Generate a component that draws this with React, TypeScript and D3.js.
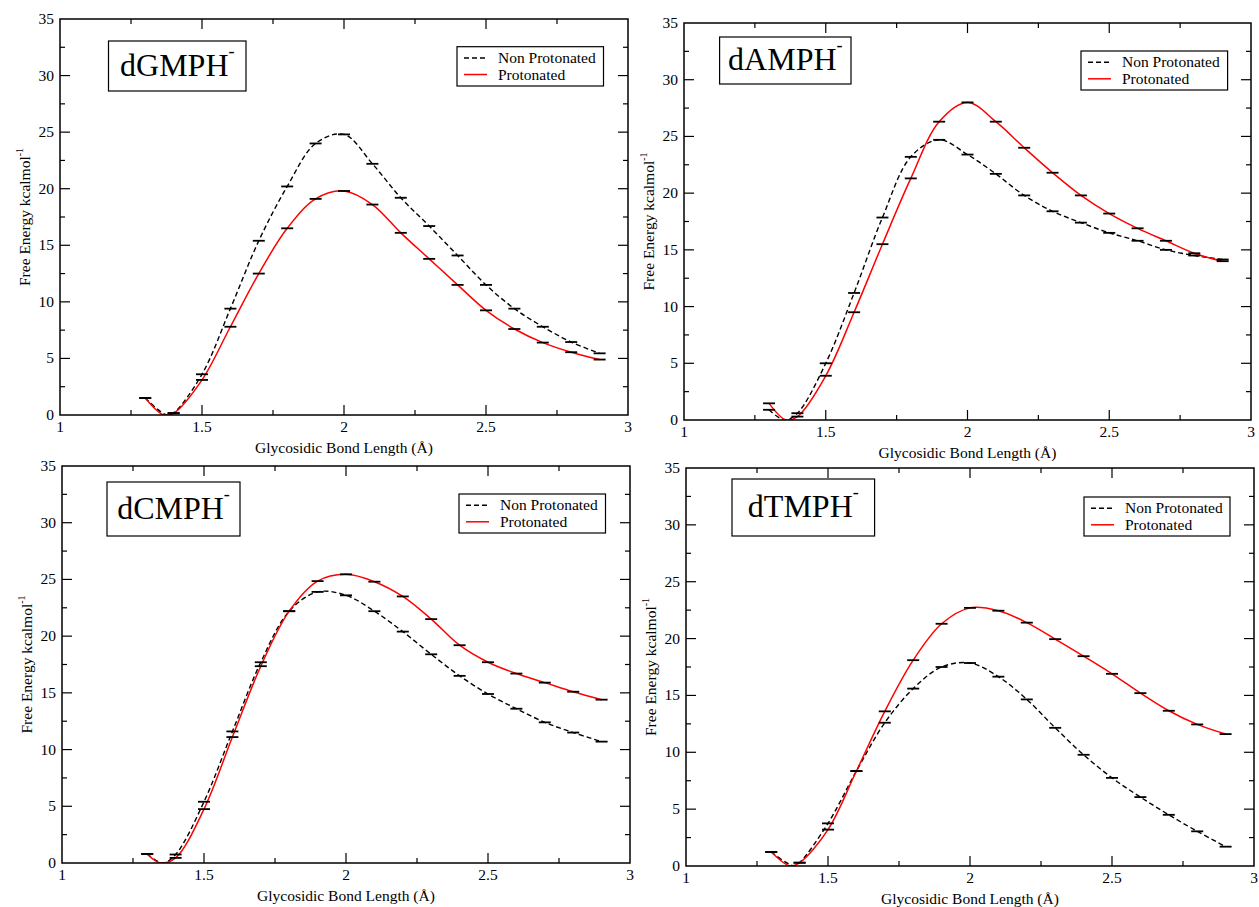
import React, { useRef, useEffect } from 'react';
import * as d3 from 'd3';

// bond length of the umbrella windows (Å)
const bondLength = [1.3, 1.4, 1.5, 1.6, 1.7, 1.8, 1.9, 2.0, 2.1, 2.2, 2.3, 2.4, 2.5, 2.6, 2.7, 2.8, 2.9];

// free energy (kcal/mol) per window
const gmpNon = [1.5, 0.18, 3.6, 9.4, 15.4, 20.2, 24.0, 24.8, 22.2, 19.2, 16.7, 14.1, 11.5, 9.4, 7.8, 6.45, 5.45];
const gmpPro = [1.5, 0.15, 3.1, 7.8, 12.5, 16.5, 19.1, 19.8, 18.6, 16.1, 13.8, 11.5, 9.25, 7.6, 6.4, 5.55, 4.9];
const ampNon = [0.9, 0.6, 5.0, 11.2, 17.85, 23.2, 24.7, 23.4, 21.7, 19.8, 18.4, 17.4, 16.5, 15.8, 15.0, 14.5, 14.15];
const ampPro = [1.47, 0.3, 3.9, 9.5, 15.5, 21.3, 26.3, 28.0, 26.3, 24.0, 21.8, 19.8, 18.2, 16.9, 15.8, 14.7, 14.0];
const cmpNon = [0.8, 0.75, 5.4, 11.6, 17.7, 22.2, 23.9, 23.6, 22.2, 20.4, 18.4, 16.5, 14.9, 13.6, 12.4, 11.5, 10.7];
const cmpPro = [0.8, 0.45, 4.75, 11.1, 17.35, 22.2, 24.85, 25.45, 24.8, 23.5, 21.5, 19.2, 17.7, 16.7, 15.9, 15.1, 14.4];
const tmpNon = [1.23, 0.29, 3.75, 8.35, 12.6, 15.6, 17.5, 17.85, 16.65, 14.65, 12.15, 9.78, 7.75, 6.06, 4.5, 3.05, 1.7];
const tmpPro = [1.23, 0.29, 3.2, 8.35, 13.6, 18.1, 21.3, 22.7, 22.45, 21.4, 19.95, 18.45, 16.9, 15.2, 13.65, 12.45, 11.6];

// where each curve touches zero (non, pro)
const gmpWell = [1.375, 1.365];
const ampWell = [1.355, 1.36];
const cmpWell = [1.355, 1.347];
const tmpWell = [1.38, 1.367];

const xTicks = [1, 1.5, 2, 2.5, 3];
const yTicks = [0, 5, 10, 15, 20, 25, 30, 35];
const seriesNames = ['Non Protonated', 'Protonated'];

const panels = [
  { title: 'dGMPH', non: gmpNon, pro: gmpPro, well: gmpWell,
    frame: [60, 19, 628, 415], tbox: [108.5, 41, 246, 91], lbox: [457, 46.7, 603.5, 86] },
  { title: 'dAMPH', non: ampNon, pro: ampPro, well: ampWell,
    frame: [684, 23, 1251, 420], tbox: [719.6, 37, 851, 84], lbox: [1081, 51, 1227.6, 90] },
  { title: 'dCMPH', non: cmpNon, pro: cmpPro, well: cmpWell,
    frame: [62, 466, 630, 863], tbox: [107, 482, 240, 536], lbox: [459, 494, 605.5, 533] },
  { title: 'dTMPH', non: tmpNon, pro: tmpPro, well: tmpWell,
    frame: [686, 468, 1254, 866], tbox: [732, 479, 874.6, 536], lbox: [1084, 497, 1230, 536] },
];

const FONT = '"Liberation Serif", "Times New Roman", serif';

export default function App() {
  const svgRef = useRef<SVGSVGElement>(null);

  useEffect(() => {
    const width = 1259;
    const height = 907;
    const svg = d3.select(svgRef.current);
    svg.selectAll('*').remove();
    svg.attr('width', width).attr('height', height)
      .attr('font-family', FONT);

    svg.append('rect').attr('width', width).attr('height', height).attr('fill', 'white');

    panels.forEach((p, pi) => {
      const [x0, y0, x1, y1] = p.frame;
      const x = d3.scaleLinear().domain([1, 3]).range([x0, x1]);
      const y = d3.scaleLinear().domain([0, 35]).range([y1, y0]);
      const g = svg.append('g');

      const clipId = `clip${pi}`;
      g.append('clipPath').attr('id', clipId)
        .append('rect').attr('x', x0).attr('y', y0).attr('width', x1 - x0).attr('height', y1 - y0);

      // smooth curves through the windows
      const line = d3.line<[number, number]>()
        .x(d => x(d[0])).y(d => y(d[1]))
        .curve(d3.curveCatmullRom.alpha(0.5));

      const pts = (vals: number[], wellX: number) => {
        const arr: [number, number][] = bondLength.map((b, i) => [b, vals[i]]);
        arr.push([wellX, 0]);
        arr.sort((a, b) => a[0] - b[0]);
        return arr;
      };

      g.append('path')
        .attr('clip-path', `url(#${clipId})`)
        .attr('d', line(pts(p.non, p.well[0])))
        .attr('fill', 'none').attr('stroke', 'black').attr('stroke-width', 1.4)
        .attr('stroke-dasharray', '5,3');

      g.append('path')
        .attr('clip-path', `url(#${clipId})`)
        .attr('d', line(pts(p.pro, p.well[1])))
        .attr('fill', 'none').attr('stroke', '#ff0000').attr('stroke-width', 1.5);

      // error bar caps at each window
      [p.non, p.pro].forEach(vals => {
        g.append('g').selectAll('line')
          .data(bondLength.map((b, i) => [b, vals[i]]))
          .join('line')
          .attr('x1', d => x(d[0]) - 6).attr('x2', d => x(d[0]) + 6)
          .attr('y1', d => y(d[1])).attr('y2', d => y(d[1]))
          .attr('stroke', 'black').attr('stroke-width', 1.8);
      });

      // frame
      g.append('rect')
        .attr('x', x0).attr('y', y0).attr('width', x1 - x0).attr('height', y1 - y0)
        .attr('fill', 'none').attr('stroke', 'black').attr('stroke-width', 1.5);

      // inward ticks on all four sides
      const xMinor = d3.range(1, 3.001, 0.25);
      const yMinor = d3.range(0, 35.001, 2.5);
      const ticks = g.append('g').attr('stroke', 'black').attr('stroke-width', 1.2);
      xMinor.forEach(v => {
        const len = Math.abs(v * 2 - Math.round(v * 2)) < 1e-6 ? 10 : 5;
        if (v === 1 || v === 3) return;
        ticks.append('line').attr('x1', x(v)).attr('x2', x(v)).attr('y1', y1).attr('y2', y1 - len);
        ticks.append('line').attr('x1', x(v)).attr('x2', x(v)).attr('y1', y0).attr('y2', y0 + len);
      });
      yMinor.forEach(v => {
        const len = Math.abs(v / 5 - Math.round(v / 5)) < 1e-6 ? 10 : 5;
        if (v === 0 || v === 35) return;
        ticks.append('line').attr('y1', y(v)).attr('y2', y(v)).attr('x1', x0).attr('x2', x0 + len);
        ticks.append('line').attr('y1', y(v)).attr('y2', y(v)).attr('x1', x1).attr('x2', x1 - len);
      });

      // tick labels
      g.append('g').selectAll('text').data(xTicks).join('text')
        .attr('x', d => x(d)).attr('y', y1 + 17)
        .attr('text-anchor', 'middle').attr('font-size', 15.5)
        .text(d => String(d));
      g.append('g').selectAll('text').data(yTicks).join('text')
        .attr('x', x0 - 6).attr('y', d => y(d) + 5)
        .attr('text-anchor', 'end').attr('font-size', 15.5)
        .text(d => String(d));

      // axis titles
      g.append('text')
        .attr('x', (x0 + x1) / 2).attr('y', y1 + 38)
        .attr('text-anchor', 'middle').attr('font-size', 15.5)
        .text('Glycosidic Bond Length (Å)');

      const yl = g.append('text')
        .attr('transform', `translate(${x0 - 30},${(y0 + y1) / 2}) rotate(-90)`)
        .attr('text-anchor', 'middle').attr('font-size', 15.5);
      yl.append('tspan').text('Free Energy kcalmol');
      yl.append('tspan').attr('font-size', 10).attr('dy', -7).text('-1');

      // title box
      const [tx0, ty0, tx1, ty1] = p.tbox;
      g.append('rect')
        .attr('x', tx0).attr('y', ty0).attr('width', tx1 - tx0).attr('height', ty1 - ty0)
        .attr('fill', 'white').attr('stroke', 'black').attr('stroke-width', 1.2);
      const tt = g.append('text')
        .attr('x', (tx0 + tx1) / 2).attr('y', (ty0 + ty1) / 2 + 9.5)
        .attr('text-anchor', 'middle').attr('font-size', 32);
      tt.append('tspan').text(p.title);
      tt.append('tspan').attr('font-size', 18).attr('dy', -19).text('-');

      // legend
      const [lx0, ly0, lx1, ly1] = p.lbox;
      g.append('rect')
        .attr('x', lx0).attr('y', ly0).attr('width', lx1 - lx0).attr('height', ly1 - ly0)
        .attr('fill', 'white').attr('stroke', 'black').attr('stroke-width', 1.2);
      seriesNames.forEach((name, i) => {
        const by = ly0 + 16.3 + i * 16.5;
        g.append('line')
          .attr('x1', lx0 + 7).attr('x2', lx0 + 30)
          .attr('y1', by - 5).attr('y2', by - 5)
          .attr('stroke', i === 0 ? 'black' : '#ff0000')
          .attr('stroke-width', i === 0 ? 1.4 : 1.5)
          .attr('stroke-dasharray', i === 0 ? '5,3' : null);
        g.append('text')
          .attr('x', lx0 + 41).attr('y', by)
          .attr('font-size', 15.5)
          .text(name);
      });
    });
  }, []);

  return (
    <div style={{ position: 'absolute', left: 0, top: 0 }}>
      <svg ref={svgRef}></svg>
    </div>
  );
}
